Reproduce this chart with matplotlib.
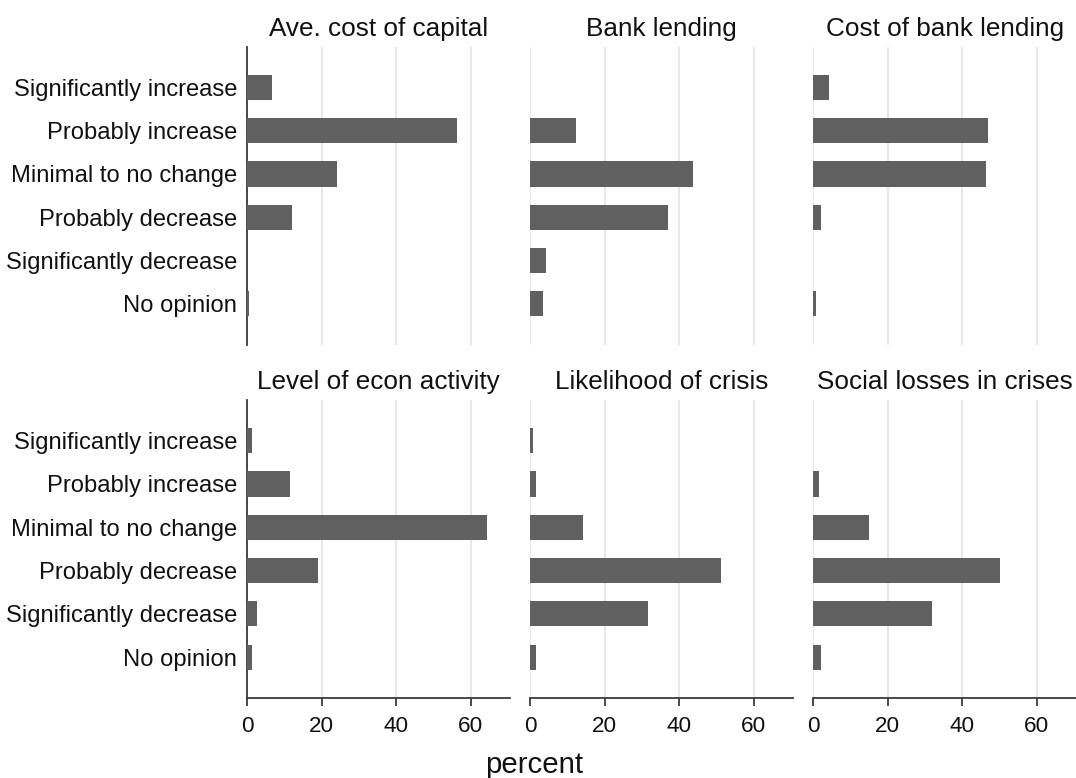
import matplotlib
matplotlib.use("Agg")
import matplotlib.pyplot as plt
import numpy as np

plt.rcParams['font.family'] = ['Liberation Sans', 'DejaVu Sans']

categories = ["Significantly increase", "Probably increase", "Minimal to no change",
              "Probably decrease", "Significantly decrease", "No opinion"]

titles = ["Ave. cost of capital", "Bank lending", "Cost of bank lending",
          "Level of econ activity", "Likelihood of crisis", "Social losses in crises"]

ave_cost_of_capital = [6.7, 56.5, 24.2, 12.1, 0.0, 0.5]
bank_lending = [0.0, 12.2, 43.7, 36.9, 4.1, 3.4]
cost_of_bank_lending = [4.1, 47.0, 46.4, 2.1, 0.0, 0.7]
level_of_econ_activity = [1.4, 11.5, 64.3, 19.0, 2.7, 1.4]
likelihood_of_crisis = [0.7, 1.4, 14.2, 51.1, 31.6, 1.4]
social_losses_in_crises = [0.0, 1.5, 15.0, 50.1, 31.8, 2.1]

xticks = [0, 20, 40, 60]

series = [ave_cost_of_capital, bank_lending, cost_of_bank_lending,
          level_of_econ_activity, likelihood_of_crisis, social_losses_in_crises]

W, H = 1076, 778
fig = plt.figure(figsize=(W / 100, H / 100), dpi=100)

col_x = [247, 530.3, 813.3]
ax_w = 263
rows = [(46.7, 345), (400, 698.3)]

bar_color = '#606060'
grid_color = '#e3e3e3'
spine_color = '#3a3a3a'

for i, (vals, title) in enumerate(zip(series, titles)):
    r, c = divmod(i, 3)
    top, bot = rows[r]
    ax = fig.add_axes([col_x[c] / W, 1 - bot / H, ax_w / W, (bot - top) / H])
    y = np.arange(len(categories))
    ax.barh(y, vals, height=0.58, color=bar_color, linewidth=0, zorder=3)
    ax.set_xlim(0, 70.6)
    ax.set_ylim(5.95, -0.94)
    ax.set_xticks(xticks)
    ax.grid(axis='x', color=grid_color, linewidth=1.2, zorder=0)
    ax.set_axisbelow(True)
    for s in ['top', 'right']:
        ax.spines[s].set_visible(False)
    ax.set_title(title, fontsize=18.8, pad=8, color='#111111')
    if c == 0:
        ax.set_yticks(y)
        ax.set_yticklabels(categories, fontsize=17.1, color='#111111')
        ax.tick_params(axis='y', length=0, pad=7)
        ax.spines['left'].set_color(spine_color)
        ax.spines['left'].set_linewidth(1.3)
    else:
        ax.set_yticks([])
        ax.spines['left'].set_visible(False)
    if r == 1:
        ax.spines['bottom'].set_color(spine_color)
        ax.spines['bottom'].set_linewidth(1.3)
        ax.tick_params(axis='x', length=6, width=1.3, color=spine_color,
                       labelsize=16.2, pad=7, labelcolor='#111111')
        ax.set_xticklabels([str(t) for t in xticks])
    else:
        ax.spines['bottom'].set_visible(False)
        ax.tick_params(axis='x', length=0, labelbottom=False)

fig.text(534 / W, 1 - 765 / H, "percent", ha='center', va='center',
         fontsize=21.2, color='#111111')

fig.savefig("out.png", dpi=100, facecolor='white')
